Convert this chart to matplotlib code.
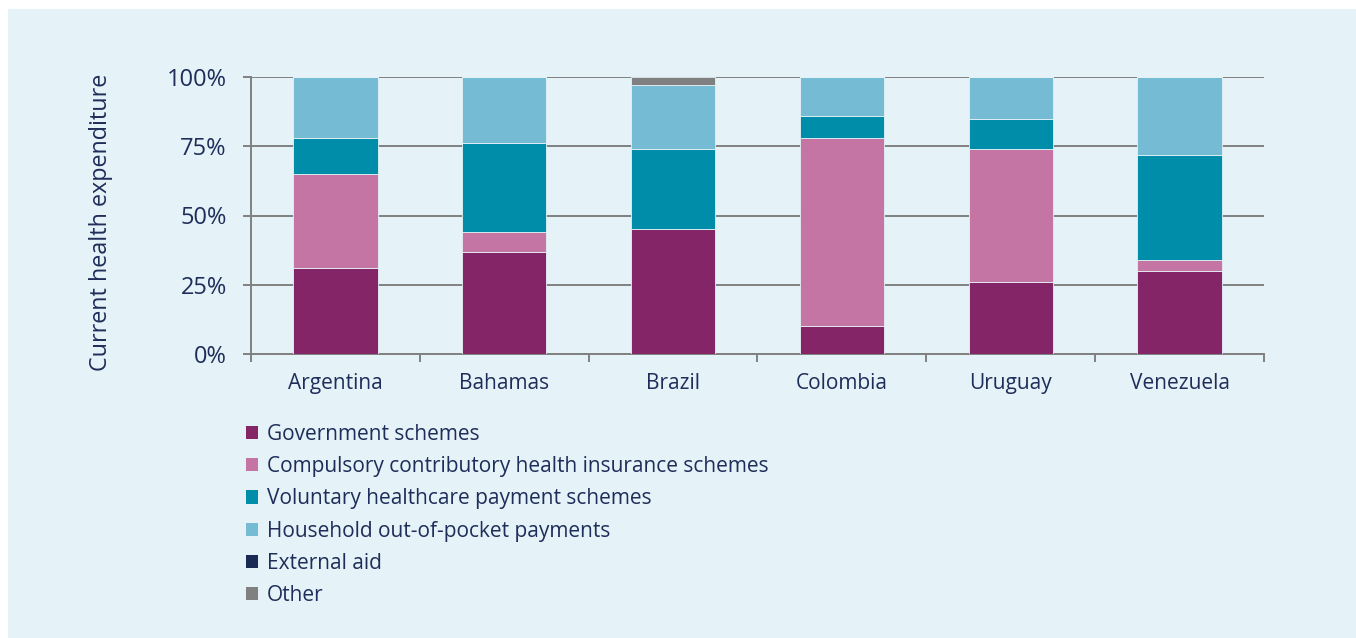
import matplotlib
matplotlib.use("Agg")
import matplotlib.pyplot as plt
from matplotlib.patches import Rectangle, Patch
import numpy as np

plt.rcParams['font.family'] = ['Open Sans', 'DejaVu Sans']

countries = ['Argentina', 'Bahamas', 'Brazil', 'Colombia', 'Uruguay', 'Venezuela']
government = [31, 37, 45, 10, 26, 30]
compulsory = [34, 7, 0, 68, 48, 4]
voluntary = [13, 32, 29, 8, 11, 38]
household = [22, 24, 23, 14, 15, 28]
external_aid = [0, 0, 0, 0, 0, 0]
other = [0, 0, 3, 0, 0, 0]

series = [
    ('Government schemes', government, '#832566'),
    ('Compulsory contributory health insurance schemes', compulsory, '#C475A3'),
    ('Voluntary healthcare payment schemes', voluntary, '#008DA9'),
    ('Household out-of-pocket payments', household, '#75BBD4'),
    ('External aid', external_aid, '#1B2A55'),
    ('Other', other, '#808080'),
]

bg = '#E5F2F7'
text_col = '#1F2D5A'
grid_col = '#808080'

fig = plt.figure(figsize=(13.56, 6.38), dpi=100)
fig.patch.set_facecolor('white')
fig.patches.append(Rectangle((8 / 1356, 0), 1, 1 - 9 / 638, transform=fig.transFigure,
                             facecolor=bg, edgecolor='none', zorder=-10))

ax = fig.add_axes([251 / 1356, 1 - 354 / 638, (1264 - 251) / 1356, (354 - 77) / 638])
ax.set_facecolor(bg)

x = np.arange(len(countries))
bottom = np.zeros(len(countries))
for label, vals, col in series:
    vals = np.array(vals, dtype=float)
    ax.bar(x, vals, width=0.5, bottom=bottom, color=col, edgecolor=bg, linewidth=0.6,
           label=label, zorder=3)
    bottom += vals

ax.set_xlim(-0.5, len(countries) - 0.5)
ax.set_ylim(0, 100)
ax.set_yticks([0, 25, 50, 75, 100])
ax.set_yticklabels(['0%', '25%', '50%', '75%', '100%'])
ax.yaxis.grid(True, color=grid_col, linewidth=1.4)
ax.set_axisbelow(True)

ax.set_xticks(x)
ax.set_xticklabels(countries)
ax.set_xticks(np.arange(-0.5, len(countries)), minor=True)
ax.tick_params(axis='x', which='major', length=0, pad=14, labelsize=15, labelcolor=text_col)
ax.tick_params(axis='x', which='minor', length=6, width=1.4, color=grid_col)
ax.tick_params(axis='y', length=6, width=1.4, color=grid_col, pad=11.5, labelsize=17,
               labelcolor=text_col)

for s in ['top', 'right']:
    ax.spines[s].set_visible(False)
for s in ['left', 'bottom']:
    ax.spines[s].set_color(grid_col)
    ax.spines[s].set_linewidth(1.4)

ax.set_ylabel('Current health expenditure', fontsize=16.8, color=text_col, labelpad=39, y=0.475)

handles = [Patch(facecolor=c, edgecolor='none') for _, _, c in series]
labels = [l for l, _, _ in series]
fig.legend(handles, labels, loc='upper left', bbox_to_anchor=(227 / 1356, 1 - 405 / 638),
           frameon=False, fontsize=15, handlelength=0.6, handleheight=0.6,
           handletextpad=0.4, labelspacing=0.54, labelcolor=text_col)

fig.savefig('out.png', dpi=100, facecolor=fig.get_facecolor())
